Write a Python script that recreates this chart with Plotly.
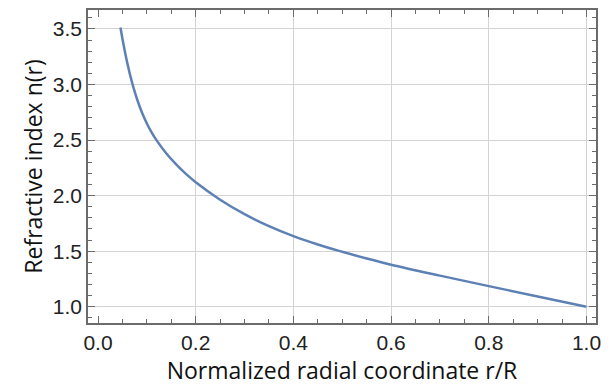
import plotly.graph_objects as go

# Values
r_vals = [0.046, 0.05, 0.06, 0.07, 0.08, 0.09, 0.1, 0.11, 0.12, 0.14, 0.16,
          0.18, 0.2, 0.25, 0.3, 0.35, 0.4, 0.45, 0.5, 0.55, 0.6, 0.7,
          0.8, 0.9, 1.0]
n_vals = [3.512, 3.412, 3.192, 3.012, 2.867, 2.747, 2.649, 2.567, 2.497, 2.379, 2.281,
          2.195, 2.12, 1.963, 1.833, 1.725, 1.635, 1.56, 1.495, 1.434, 1.378, 1.28,
          1.186, 1.093, 1.0]

x_ticks = [0.0, 0.2, 0.4, 0.6, 0.8, 1.0]
x_ticklabels = ["0.0", "0.2", "0.4", "0.6", "0.8", "1.0"]
x_grid = [0.2, 0.4, 0.6, 0.8, 1.0]
y_ticks = [1.0, 1.5, 2.0, 2.5, 3.0, 3.5]
y_ticklabels = ["1.0", "1.5", "2.0", "2.5", "3.0", "3.5"]

x_title = "Normalized radial coordinate r/R"
y_title = "Refractive index n(r)"

frame_col = "#6b6b6b"
grid_col = "#d3d3d3"
tick_font = dict(family="Liberation Sans, Arial", size=21, color="#222222")
title_font = dict(family="Open Sans, Noto Sans", size=23, color="#111111")

fig = go.Figure()
fig.add_trace(go.Scatter(x=r_vals, y=n_vals, mode="lines",
                         line=dict(color="#5E81B5", width=2.5, shape="spline"),
                         showlegend=False, hoverinfo="skip"))
# empty trace that activates the grid overlay axis
fig.add_trace(go.Scatter(x=[None], y=[None], xaxis="x2", yaxis="y",
                         showlegend=False, hoverinfo="skip"))

xr = [-0.0205, 1.0195]
yr = [0.854, 3.67]

# the page body adds an 8px offset, so the figure is 8px smaller
fig.update_layout(
    width=605, height=383,
    margin=dict(l=80, r=17, t=2, b=68, autoexpand=False),
    paper_bgcolor="white", plot_bgcolor="white",
    xaxis=dict(range=xr, tickvals=x_ticks, ticktext=x_ticklabels,
               showgrid=False, zeroline=False, automargin=False,
               showline=True, linecolor=frame_col, linewidth=1.5, mirror="ticks",
               ticks="inside", ticklen=7, tickwidth=1.2, tickcolor=frame_col,
               tickfont=tick_font,
               minor=dict(ticks="inside", ticklen=4, tickwidth=1, tickcolor=frame_col,
                          dtick=0.05, tick0=0, showgrid=False),
               title=dict(text=x_title, font=title_font, standoff=4),
               layer="above traces"),
    xaxis2=dict(range=xr, overlaying="x", matches="x", tickvals=x_grid,
                showticklabels=False, ticks="", showgrid=True, gridcolor=grid_col,
                gridwidth=1.2, zeroline=False, showline=False, layer="below traces"),
    yaxis=dict(range=yr, tickvals=y_ticks, ticktext=y_ticklabels,
               showgrid=True, gridcolor=grid_col, gridwidth=1.2, zeroline=False,
               automargin=False,
               showline=True, linecolor=frame_col, linewidth=1.5, mirror="ticks",
               ticks="inside", ticklen=7, tickwidth=1.2, tickcolor=frame_col,
               tickfont=tick_font,
               minor=dict(ticks="inside", ticklen=4, tickwidth=1, tickcolor=frame_col,
                          dtick=0.1, tick0=1.0, showgrid=False),
               title=dict(text=y_title, font=title_font, standoff=4),
               layer="above traces"),
)

fig.write_html("out.html")
